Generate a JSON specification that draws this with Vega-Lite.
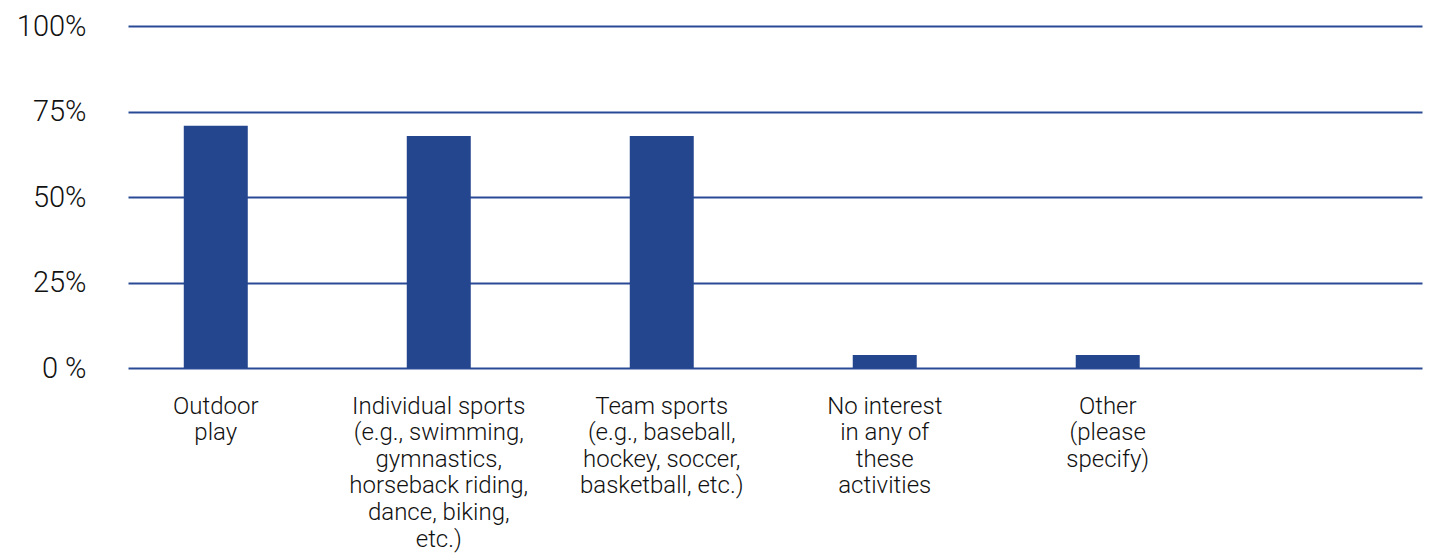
{
  "$schema": "https://vega.github.io/schema/vega-lite/v6.json",
  "width": 1294,
  "height": 342,
  "autosize": "none",
  "padding": {"left": 128, "top": 26, "right": 10, "bottom": 186},
  "background": "white",
  "config": {"view": {"stroke": null}, "font": "Roboto"},
  "data": {
    "values": [
      {"category": "Outdoor|play", "value": 70.8},
      {"category": "Individual sports|(e.g., swimming,|gymnastics,|horseback riding,|dance, biking,|etc.)", "value": 67.8},
      {"category": "Team sports|(e.g., baseball,|hockey, soccer,|basketball, etc.)", "value": 67.8},
      {"category": "No interest|in any of|these|activities", "value": 3.8},
      {"category": "Other|(please|specify)", "value": 3.8}
    ]
  },
  "mark": {"type": "bar", "color": "#24468f"},
  "encoding": {
    "x": {
      "field": "category",
      "type": "nominal",
      "sort": null,
      "scale": {"paddingInner": 0.713, "paddingOuter": 0.758, "align": 0.165},
      "axis": {
        "title": null,
        "labelAngle": 0,
        "domain": false,
        "ticks": false,
        "grid": false,
        "labelExpr": "split(datum.label, '|')",
        "labelFont": "Roboto",
        "labelFontWeight": 300,
        "labelFontSize": 24,
        "labelLineHeight": 26.6,
        "labelColor": "#111111",
        "labelPadding": 26,
        "labelLimit": 500,
        "labelBaseline": "top"
      }
    },
    "y": {
      "field": "value",
      "type": "quantitative",
      "scale": {"domain": [0, 100]},
      "axis": {
        "title": null,
        "values": [0, 25, 50, 75, 100],
        "labelExpr": "datum.value == 0 ? '0 %' : datum.value + '%'",
        "domain": false,
        "ticks": false,
        "grid": true,
        "gridColor": "#2a4a95",
        "gridWidth": 2,
        "gridOpacity": 1,
        "labelFont": "Roboto",
        "labelFontWeight": 300,
        "labelFontSize": 29,
        "labelColor": "#111111",
        "labelPadding": 42
      }
    }
  }
}
